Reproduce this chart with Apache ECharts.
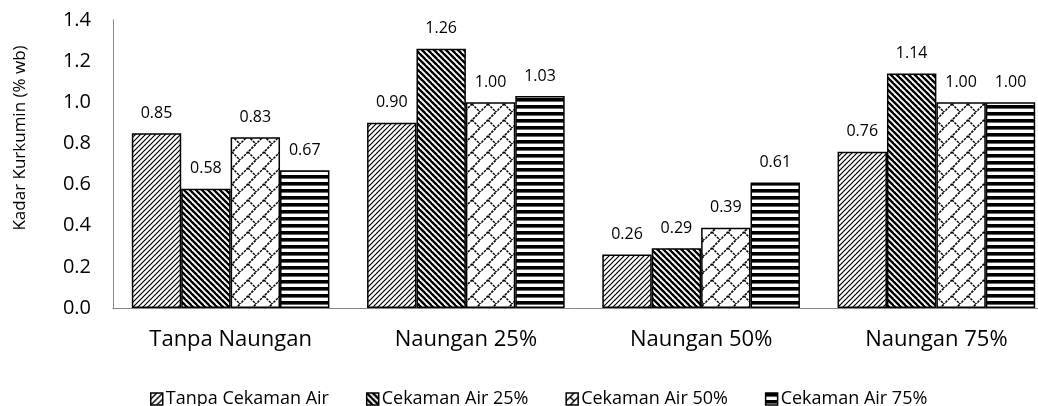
<!DOCTYPE html>
<html>
<head>
<meta charset="utf-8">
<script src="https://cdn.jsdelivr.net/npm/echarts@6/dist/echarts.min.js"></script>
<style>
  html, body { margin: 0; padding: 0; background: #fff; overflow: hidden; }
  #main { width: 1038px; height: 406px; }
</style>
</head>
<body>
<div id="main"></div>
<script>
var categories = ["Tanpa Naungan", "Naungan 25%", "Naungan 50%", "Naungan 75%"];
var seriesNames = ["Tanpa Cekaman Air", "Cekaman Air 25%", "Cekaman Air 50%", "Cekaman Air 75%"];
var tanpaCekaman = [0.85, 0.90, 0.26, 0.76];
var cekaman25 = [0.58, 1.26, 0.29, 1.14];
var cekaman50 = [0.83, 1.00, 0.39, 1.00];
var cekaman75 = [0.67, 1.03, 0.61, 1.00];
var yTicks = [0, 1.4, 0.2];

var font = "'Open Sans', sans-serif";

// hatch tiles, drawn on small canvases
function makeTile(size, draw) {
  var c = document.createElement("canvas");
  c.width = size;
  c.height = size;
  var ctx = c.getContext("2d");
  ctx.fillStyle = "#fff";
  ctx.fillRect(0, 0, size, size);
  ctx.strokeStyle = "#000";
  ctx.fillStyle = "#000";
  draw(ctx, size);
  return { image: c, repeat: "repeat" };
}

function diag(ctx, s, up) {
  for (var k = -1; k <= 1; k++) {
    ctx.beginPath();
    if (up) {
      ctx.moveTo(k * s - 1, s + 1);
      ctx.lineTo(k * s + s + 1, -1);
    } else {
      ctx.moveTo(k * s - 1, -1);
      ctx.lineTo(k * s + s + 1, s + 1);
    }
    ctx.stroke();
  }
}

var patUp = makeTile(5, function (ctx, s) {
  ctx.lineWidth = 1.2;
  diag(ctx, s, true);
});

var patDown = makeTile(6, function (ctx, s) {
  ctx.lineWidth = 2.4;
  diag(ctx, s, false);
});

var patBrick = makeTile(16, function (ctx, s) {
  ctx.lineWidth = 1.6;
  ctx.setLineDash([2.5, 1]);
  diag(ctx, s, true);
  ctx.beginPath();
  ctx.moveTo(8, 8);
  ctx.lineTo(16, 16);
  ctx.stroke();
});

var patHoriz = makeTile(7, function (ctx, s) {
  ctx.fillRect(0, 0, s, 3.6);
});

// smaller tiles for the legend keys
var keyBrick = makeTile(8, function (ctx, s) {
  ctx.lineWidth = 1.4;
  diag(ctx, s, true);
  ctx.beginPath();
  ctx.moveTo(4, 4);
  ctx.lineTo(8, 8);
  ctx.stroke();
});
var keyUp = makeTile(6, function (ctx, s) {
  ctx.lineWidth = 1.4;
  diag(ctx, s, true);
});

var patterns = [patUp, patDown, patBrick, patHoriz];
var keyPatterns = [keyUp, patDown, keyBrick, patHoriz];
var values = [tanpaCekaman, cekaman25, cekaman50, cekaman75];

var chart = echarts.init(document.getElementById("main"));

var series = [];
var legendData = [];
for (var i = 0; i < values.length; i++) {
  series.push({
    name: seriesNames[i],
    type: "bar",
    data: values[i],
    barGap: "0%",
    barCategoryGap: "16%",
    itemStyle: {
      color: patterns[i],
      borderColor: "#000",
      borderWidth: 1.5
    },
    label: {
      show: true,
      position: "top",
      distance: 12,
      color: "#000",
      fontFamily: font,
      fontSize: 16,
      formatter: function (p) {
        return p.value.toFixed(2);
      }
    }
  });
  legendData.push({
    name: seriesNames[i],
    itemStyle: { color: keyPatterns[i], borderColor: "#000", borderWidth: 1.5 }
  });
}

var option = {
  backgroundColor: "#fff",
  animation: false,
  grid: { left: 113, width: 941, top: 20, bottom: 98, outerBoundsMode: "none" },
  legend: {
    left: 145,
    top: 385,
    itemWidth: 12,
    itemHeight: 12,
    itemGap: 37,
    icon: "rect",
    textStyle: { color: "#000", fontFamily: font, fontSize: 18, padding: [0, 0, 0, -2] },
    data: legendData
  },
  xAxis: {
    type: "category",
    data: categories,
    axisLine: { lineStyle: { color: "#868686", width: 1 } },
    axisTick: { show: false },
    axisLabel: { color: "#000", fontFamily: font, fontSize: 22, margin: 21 }
  },
  yAxis: {
    type: "value",
    min: yTicks[0],
    max: yTicks[1],
    interval: yTicks[2],
    name: "Kadar Kurkumin (% wb)",
    nameLocation: "middle",
    nameGap: 84,
    nameTextStyle: { color: "#000", fontFamily: font, fontSize: 17, padding: [0, 0, 0, 52] },
    splitLine: { show: false },
    axisLine: { show: true, lineStyle: { color: "#868686", width: 1 } },
    axisTick: { show: false },
    axisLabel: {
      color: "#000",
      fontFamily: font,
      fontSize: 20,
      margin: 22,
      formatter: function (v) { return v.toFixed(1); }
    }
  },
  series: series
};

chart.setOption(option);
window.onresize = chart.resize;
</script>
</body>
</html>
